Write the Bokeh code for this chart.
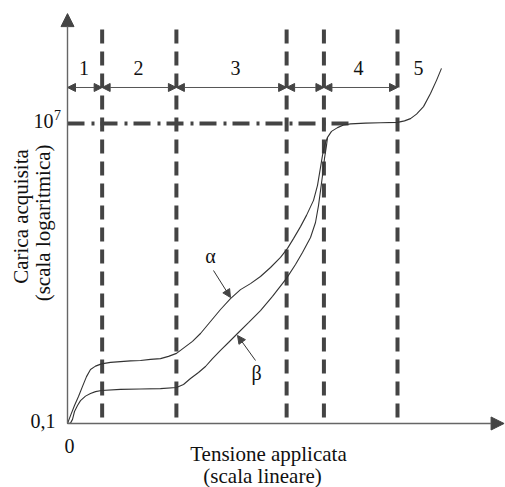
import math
from bokeh.plotting import figure
from bokeh.models import Arrow, NormalHead, Label, Range1d
from bokeh.embed import file_html
from bokeh.resources import INLINE

# ---------------- data (voltage in arbitrary linear units, charge as log10) -------------
alpha_v = [0, 0.91, 2.12, 3.33, 4.55, 5.76, 6.97, 8.48, 10.30, 13.03, 16.06, 19.09, 22.12,
           25.15, 28.18, 30.61, 33.03, 35.45, 37.88, 40.30, 43.33, 46.36, 49.39, 52.42,
           55.45, 58.48, 61.52, 64.55, 66.67, 68.48, 70.61, 72.42, 74.55, 75.76, 76.67,
           77.27, 77.88, 78.79, 80.00, 81.82, 83.64, 85.76, 90.30, 94.85, 100.0, 102.12,
           103.94, 105.76, 107.88, 110.0, 111.82, 113.33]
alpha_logq = [-1.00, -0.79, -0.52, -0.28, -0.01, 0.25, 0.44, 0.53, 0.59, 0.63, 0.65, 0.67,
              0.68, 0.71, 0.73, 0.79, 0.87, 1.03, 1.19, 1.40, 1.72, 2.04, 2.33, 2.57, 2.73,
              2.92, 3.16, 3.43, 3.67, 3.93, 4.25, 4.55, 4.95, 5.35, 5.83, 6.15, 6.41, 6.63,
              6.79, 6.89, 6.96, 6.99, 7.01, 7.02, 7.03, 7.07, 7.13, 7.25, 7.45, 7.80, 8.15,
              8.47]

beta_v = [0, 0.91, 1.52, 2.12, 3.03, 3.94, 5.45, 6.97, 8.48, 10.30, 16.06, 22.12, 28.18,
          33.03, 35.15, 37.27, 39.70, 41.82, 43.94, 46.36, 48.79, 51.52, 54.85, 58.48,
          62.12, 66.36, 69.09, 71.21, 73.64, 75.15, 76.06, 76.67, 77.27, 77.88, 78.48, 78.79]
beta_logq = [-1.00, -0.99, -0.89, -0.68, -0.52, -0.39, -0.27, -0.20, -0.15, -0.12, -0.09,
             -0.08, -0.07, -0.04, 0.04, 0.20, 0.36, 0.52, 0.73, 0.95, 1.16, 1.40, 1.69, 2.01,
             2.39, 2.87, 3.24, 3.56, 3.96, 4.36, 4.81, 5.21, 5.61, 6.07, 6.41, 6.63]

region_bounds = [10.5, 33.0, 66.4, 77.7, 100.0]     # voltages of the dashed boundaries
region_labels = ["1", "2", "3", "4", "5"]
region_label_v = [5.0, 21.5, 50.9, 88.2, 106.4]

y_tick_values = [0.1, 1e7]
y_tick_labels = ["0,1", "10", "7"]
x_tick_labels = ["0"]
curve_labels = ["α", "β"]
x_title = ["Tensione applicata", "(scala lineare)"]
y_title = ["Carica acquisita", "(scala logaritmica)"]
plateau_end_v = 85.76

# ---------------- figure ------------------------------------------------------------
FONT = "Liberation Serif"
DARK = "#444444"
AX = "#666666"
y0 = math.log10(y_tick_values[0])   # -1
y7 = math.log10(y_tick_values[1])   # 7

p = figure(width=505, height=487,
           x_range=Range1d(-20.303, 132.727), y_range=Range1d(-2.7067, 10.28),
           x_axis_type=None, y_axis_type=None,
           output_backend="svg", toolbar_location=None, min_border=0)
p.outline_line_color = None
p.background_fill_color = "white"
p.border_fill_color = "white"

# dimension arrows between regions
starts = [0.0] + region_bounds[:-1]
dim_y = 7.96
for a, b in zip(starts, region_bounds):
    p.add_layout(Arrow(start=NormalHead(size=8, fill_color=DARK, line_color=DARK),
                       end=NormalHead(size=8, fill_color=DARK, line_color=DARK),
                       x_start=a, y_start=dim_y, x_end=b, y_end=dim_y,
                       line_color="#555555", line_width=1))

# vertical dashed boundaries
p.segment(x0=region_bounds, y0=[9.507] * len(region_bounds),
          x1=region_bounds, y1=[y0] * len(region_bounds),
          line_color=DARK, line_width=4, line_dash="14 8", line_cap="butt")

# dash-dot 10^7 level
p.line([0, plateau_end_v], [y7, y7], line_color=DARK, line_width=4,
       line_dash="17 7 3 6", line_cap="butt")

# curves
p.line(alpha_v, alpha_logq, line_color="#333333", line_width=1.1)
p.line(beta_v, beta_logq, line_color="#333333", line_width=1.1)

# axes with arrows
p.add_layout(Arrow(end=NormalHead(size=13, fill_color=DARK, line_color=DARK),
                   x_start=0, y_start=y0, x_end=0, y_end=9.93,
                   line_color=AX, line_width=1.4))
p.add_layout(Arrow(end=NormalHead(size=13, fill_color=DARK, line_color=DARK),
                   x_start=0, y_start=y0, x_end=132.3, y_end=y0,
                   line_color=AX, line_width=1.4))

# curve label arrows
p.add_layout(Arrow(end=NormalHead(size=8, fill_color=DARK, line_color=DARK),
                   x_start=44.24, y_start=3.08, x_end=49.39, y_end=2.36,
                   line_color="#333333", line_width=1))
p.add_layout(Arrow(end=NormalHead(size=8, fill_color=DARK, line_color=DARK),
                   x_start=56.97, y_start=0.68, x_end=51.52, y_end=1.347,
                   line_color="#333333", line_width=1))


def lab(x, y, text, size="20px", align="center", angle=0.0):
    rotated = angle != 0.0
    p.add_layout(Label(x=x, y=y, text=text, text_font=FONT, text_font_size=size,
                       text_align=align, text_baseline="alphabetic", angle=angle,
                       x_offset=-7 if rotated else 0, y_offset=0 if rotated else 7,
                       text_color="#111111"))


for t, xv in zip(region_labels, region_label_v):
    lab(xv, 8.28, t)

lab(43.33, 3.267, curve_labels[0])
lab(57.27, 0.173, curve_labels[1])

lab(-3.64, -1.133, y_tick_labels[0], align="right")
lab(-4.24, 6.893, y_tick_labels[1], align="right")
lab(-4.09, 7.053, y_tick_labels[2], size="14px", align="left")
lab(0.61, -1.80, x_tick_labels[0])

lab(60.9, -1.987, x_title[0], size="21px")
lab(59.1, -2.59, x_title[1], size="21px")

lab(-12.12, 4.52, y_title[0], size="21px", angle=math.pi / 2)
lab(-5.45, 4.35, y_title[1], size="21px", angle=math.pi / 2)

open("out.html", "w").write(file_html(p, INLINE))
